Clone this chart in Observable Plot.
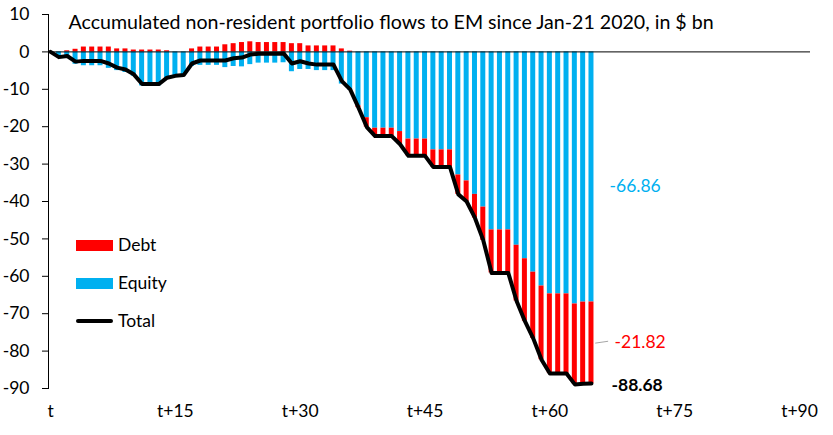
<!DOCTYPE html>
<html>
<head>
<meta charset="utf-8">
<script src="https://cdn.jsdelivr.net/npm/d3@7"></script>
<script src="https://cdn.jsdelivr.net/npm/@observablehq/plot@0.6"></script>
<style>
  html, body { margin: 0; padding: 0; background: #fff; }
  #wrap { position: relative; width: 833px; height: 435px; font-family: Lato, "Open Sans", sans-serif; }
  #legend { position: absolute; left: 76px; top: 232px; font-size: 17.5px; color: #000; }
  .item { position: absolute; left: 0; white-space: nowrap; height: 22px; }
  .sw { position: absolute; left: 0; width: 37px; }
  .lab { position: absolute; left: 42px; line-height: 22px; top: 0; }
</style>
</head>
<body>
<div id="wrap">
  <div id="chart"></div>
  <div id="legend">
    <div class="item" style="top:2px"><div class="sw" style="top:6px;height:11px;background:#FF0000"></div><div class="lab">Debt</div></div>
    <div class="item" style="top:40px"><div class="sw" style="top:6px;height:11px;background:#00B0F0"></div><div class="lab">Equity</div></div>
    <div class="item" style="top:78px"><div class="sw" style="top:9px;height:4px;border-radius:2px;background:#000"></div><div class="lab">Total</div></div>
  </div>
</div>
<script>
const days = [0,1,2,3,4,5,6,7,8,9,10,11,12,13,14,15,16,17,18,19,20,21,22,23,24,25,26,27,28,29,30,31,32,33,34,35,36,37,38,39,40,41,42,43,44,45,46,47,48,49,50,51,52,53,54,55,56,57,58,59,60,61,62,63,64,65];
const equity = [0,-1.4,-1.4,-3.3,-3.7,-3.7,-3.7,-4.4,-5.0,-5.5,-6.5,-9.1,-9.1,-9.1,-7.2,-6.4,-6.2,-3.9,-3.6,-3.6,-3.6,-4.2,-3.9,-4.0,-3.4,-3.0,-3.0,-3.0,-2.9,-5.3,-4.7,-4.7,-5.0,-5.0,-5.0,-8.6,-10.2,-14.4,-17.6,-20.4,-20.4,-20.4,-21.3,-23.3,-23.3,-23.3,-26.2,-26.2,-26.2,-32.9,-34.5,-38.1,-41.5,-47.6,-47.6,-47.6,-51.7,-55.3,-58.9,-62.6,-64.7,-64.7,-64.7,-67.4,-66.9,-66.86];
const debt = [0,0,0.3,0.7,1.3,1.3,1.3,1.3,0.8,0.8,0.5,0.5,0.5,0.5,0.3,0,0,0.8,1.3,1.3,1.3,1.9,2.2,2.5,2.7,2.5,2.5,2.5,2.5,2.2,2.2,1.6,1.6,1.6,1.6,0.8,0.2,-0.5,-2.5,-2.1,-2.1,-2.1,-3.4,-4.5,-4.5,-4.5,-4.6,-4.6,-4.6,-5.2,-5.5,-6.3,-8.9,-11.5,-11.5,-11.5,-14.9,-16.7,-17.7,-19.7,-21.3,-21.3,-21.3,-21.5,-21.8,-21.82];
const total = [0,-1.4,-1.1,-2.6,-2.4,-2.4,-2.4,-3.1,-4.2,-4.7,-6.0,-8.6,-8.6,-8.6,-6.9,-6.4,-6.2,-3.1,-2.3,-2.3,-2.3,-2.3,-1.7,-1.5,-0.7,-0.5,-0.5,-0.5,-0.4,-3.1,-2.5,-3.1,-3.4,-3.4,-3.4,-7.8,-10.0,-14.9,-20.1,-22.5,-22.5,-22.5,-24.7,-27.8,-27.8,-27.8,-30.8,-30.8,-30.8,-38.1,-40.0,-44.4,-50.4,-59.1,-59.1,-59.1,-66.6,-72.0,-76.6,-82.3,-86.0,-86.0,-86.0,-88.9,-88.7,-88.68];
const xTicks = [0,15,30,45,60,75,90];
const yTicks = [10,0,-10,-20,-30,-40,-50,-60,-70,-80,-90];
const title = "Accumulated non-resident portfolio flows to EM since Jan-21 2020, in $ bn";

const long = [];
days.forEach((d, i) => {
  long.push({day: d, series: "Equity", value: equity[i]});
  long.push({day: d, series: "Debt", value: debt[i]});
});
const lineData = days.map((d, i) => ({day: d, total: total[i]}));
const last = days.length - 1;
const endEq = equity[last], endDebt = debt[last], endTot = total[last];
const font = "Lato, 'Open Sans', sans-serif";

const chart = Plot.plot({
  width: 833,
  height: 435,
  marginLeft: 48,
  marginRight: 23,
  marginTop: 14,
  marginBottom: 47,
  style: {fontFamily: font, fontSize: "17px", background: "#fff", color: "#000"},
  x: {domain: [-0.25, 91.32], label: null},
  y: {domain: [-90, 10], label: null},
  color: {domain: ["Debt", "Equity"], range: ["#FF0000", "#00B0F0"]},
  marks: [
    Plot.rectY(long, Plot.stackY({
      x1: d => d.day - 0.3, x2: d => d.day + 0.3,
      y: "value", z: "series", fill: "series",
      order: ["Equity", "Debt"]
    })),
    Plot.ruleY([0], {stroke: "#000", strokeWidth: 1}),
    Plot.line(lineData, {x: "day", y: "total", stroke: "#000", strokeWidth: 4, strokeLinejoin: "round", strokeLinecap: "round"}),
    Plot.axisY({ticks: yTicks, tickSize: 6, tickPadding: 13, fontSize: 17.5, label: null, tickFormat: d => String(d)}),
    Plot.frame({anchor: "left", stroke: "#000"}),
    Plot.axisX({ticks: xTicks, tickSize: 0, tickPadding: 16, fontSize: 17.5, label: null, tickFormat: d => d === 0 ? "t" : "t+" + d}),
    Plot.text([title], {frameAnchor: "top-left", dx: 20, dy: 8, textAnchor: "start", lineAnchor: "middle", fontSize: 19.6, fill: "#000"}),
    Plot.text([{day: days[last], y: endEq / 2, label: endEq.toFixed(2)}], {x: "day", y: "y", text: "label", dx: 18, dy: 9, textAnchor: "start", fill: "#00B0F0", fontSize: 17.5}),
    Plot.text([{day: days[last], y: endEq + endDebt / 2, label: endDebt.toFixed(2)}], {x: "day", y: "y", text: "label", dx: 23, textAnchor: "start", fill: "#FF0000", fontSize: 17.5}),
    Plot.link([{day: days[last], y: endEq + endDebt / 2}], {x1: d => d.day + 0.45, x2: d => d.day + 2.0, y1: d => d.y - 0.1, y2: d => d.y + 0.4, stroke: "#A6A6A6", strokeWidth: 1}),
    Plot.text([{day: days[last], y: endTot, label: endTot.toFixed(2)}], {x: "day", y: "y", text: "label", dx: 20, dy: 2, textAnchor: "start", fill: "#000", fontWeight: "bold", fontSize: 17.5})
  ]
});
document.getElementById("chart").appendChild(chart);
</script>
</body>
</html>
